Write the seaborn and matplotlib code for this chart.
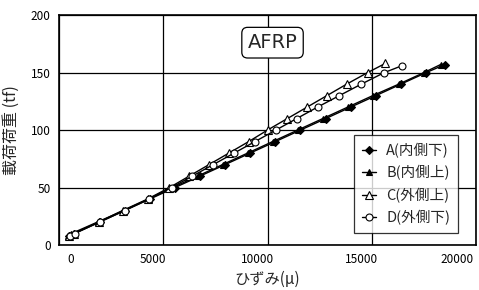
import matplotlib
matplotlib.use('Agg')

import pandas as pd
import matplotlib.pyplot as plt
import matplotlib.transforms as mtransforms
import seaborn as sns

# load steps (tf) and strains (micro)
loadA = [8, 10, 20, 30, 40, 50, 60, 70, 80, 90, 100, 110, 120, 130, 140, 150, 157]
strainA = [500, 740, 1950, 3150, 4360, 5560, 6770, 7970, 9170, 10380, 11580, 12790, 13990, 15200, 16400, 17610, 18500]

loadB = [8, 10, 20, 30, 40, 50, 60, 70, 80, 90, 100, 110, 120, 130, 140, 150, 157]
strainB = [450, 600, 1850, 3100, 4300, 5450, 6650, 7850, 9050, 10250, 11450, 12650, 13850, 15050, 16300, 17500, 18300]

loadC = [8, 10, 20, 30, 40, 50, 60, 70, 80, 90, 100, 110, 120, 130, 140, 150, 158]
strainC = [500, 700, 1900, 3050, 4250, 5300, 6250, 7200, 8150, 9100, 10000, 10950, 11900, 12850, 13800, 14800, 15650]

loadD = [8, 10, 20, 30, 40, 50, 60, 70, 80, 90, 100, 110, 120, 130, 140, 150, 156]
strainD = [550, 750, 1950, 3150, 4300, 5400, 6400, 7400, 8400, 9400, 10400, 11400, 12400, 13450, 14500, 15600, 16450]

labels = ['A(内側下)', 'B(内側上)', 'C(外側上)', 'D(外側下)']
xticks = [0, 5000, 10000, 15000, 20000]
yticks = [0, 50, 100, 150, 200]

sns.set_style('white')
plt.rcParams['font.family'] = ['Noto Sans CJK JP', 'DejaVu Sans']

fig = plt.figure(figsize=(4.79, 2.90), dpi=100)
ax = fig.add_axes([0.123, 0.155, 0.871, 0.793])

series = [
    (strainA, loadA, 'D', 'black', 4.5),
    (strainB, loadB, '^', 'black', 5),
    (strainC, loadC, '^', 'white', 5.5),
    (strainD, loadD, 'o', 'white', 5),
]
for (xs, ys, mk, fc, ms), lab in zip(series, labels):
    df = pd.DataFrame({'strain': xs, 'load': ys})
    sns.lineplot(data=df, x='strain', y='load', ax=ax, color='black', lw=1.0,
                 marker=mk, markersize=ms, markerfacecolor=fc,
                 markeredgecolor='black', markeredgewidth=0.8, label=lab,
                 sort=False)

ax.set_xlim(0, 20000)
ax.set_ylim(0, 200)
ax.set_xticks(xticks)
ax.set_yticks(yticks)
ax.grid(True, color='black', lw=0.9)
for s in ax.spines.values():
    s.set_color('black')
    s.set_linewidth(1.2)
ax.tick_params(length=0, labelsize=8.5, colors='black', pad=6)

# x tick labels sit slightly off their gridlines in the original
shifts = [12, -10, -10, -10, -19]
for lbl, dx in zip(ax.get_xticklabels(), shifts):
    lbl.set_transform(lbl.get_transform() +
                      mtransforms.ScaledTranslation(dx / 100, 0, fig.dpi_scale_trans))

ax.set_xlabel('ひずみ(μ)', fontsize=11, labelpad=3)
ax.set_ylabel('載荷荷重 (tf)', fontsize=11.5, labelpad=8)

ax.text(10240, 176, 'AFRP', fontsize=14, ha='center', va='center',
        family='DejaVu Sans',
        bbox=dict(boxstyle='round,pad=0.3', fc='white', ec='black', lw=0.9))

leg = ax.legend(loc='lower right', bbox_to_anchor=(0.975, 0.02), fontsize=10.5,
                frameon=True, fancybox=False, edgecolor='black',
                handlelength=1.0, handletextpad=0.7, borderpad=0.55,
                labelspacing=0.5)
leg.get_frame().set_linewidth(0.9)

fig.savefig('out.png', dpi=100)
